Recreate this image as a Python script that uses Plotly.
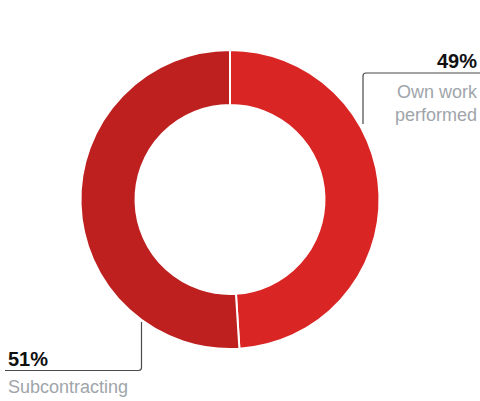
import plotly.graph_objects as go

# Share of revenue by source of work
categories = ["Own work performed", "Subcontracting"]
shares = [49, 51]
pct_labels = ["49%", "51%"]
name_labels = ["Own work<br>performed", "Subcontracting"]
slice_colors = ["#d92624", "#be2020"]

W, H = 480, 401
# pie geometry in pixels
cx, cy, r = 230, 199.5, 149.5


def px(x):
    return x / W


def py(y):
    return 1 - y / H


fig = go.Figure(
    go.Pie(
        labels=categories,
        values=shares,
        sort=False,
        direction="clockwise",
        rotation=0,
        hole=0.632,
        textinfo="none",
        hoverinfo="label+percent",
        marker=dict(colors=slice_colors, line=dict(color="white", width=2)),
        domain=dict(x=[px(cx - r), px(cx + r)], y=[py(cy + r), py(cy - r)]),
        showlegend=False,
    )
)

line_col = "#4a4a4a"
rc = 3  # corner radius of leader lines

# leader for the right label: vertical up from the ring, then right to the edge
rx, ry_top, ry_bot = 363, 73, 124
right_path = (
    f"M {px(rx)} {py(ry_bot)} L {px(rx)} {py(ry_top + rc)} "
    f"Q {px(rx)} {py(ry_top)} {px(rx + rc)} {py(ry_top)} L {px(W)} {py(ry_top)}"
)
# leader for the left label: down from the ring, then left
lx, ly_top, ly_bot, lx_end = 141.5, 322, 370.5, 5
left_path = (
    f"M {px(lx)} {py(ly_top)} L {px(lx)} {py(ly_bot - rc)} "
    f"Q {px(lx)} {py(ly_bot)} {px(lx - rc)} {py(ly_bot)} L {px(lx_end)} {py(ly_bot)}"
)
for p in (right_path, left_path):
    fig.add_shape(type="path", path=p, xref="paper", yref="paper",
                  line=dict(color=line_col, width=1.2))

pct_font = dict(family="Liberation Sans, Arial, sans-serif", size=20, color="#111111", weight="bold")
name_font = dict(family="Liberation Sans, Arial, sans-serif", size=18, color="#a0a5aa")

# right label block
fig.add_annotation(x=px(479), y=py(ry_top + 1), xref="paper", yref="paper",
                   text=pct_labels[0], showarrow=False, xanchor="right", yanchor="bottom",
                   font=pct_font)
fig.add_annotation(x=px(480), y=py(ry_top + 7), xref="paper", yref="paper",
                   text=name_labels[0], showarrow=False, xanchor="right", yanchor="top",
                   align="right", font=name_font)
# left label block
fig.add_annotation(x=px(6), y=py(ly_bot + 1), xref="paper", yref="paper",
                   text=pct_labels[1], showarrow=False, xanchor="left", yanchor="bottom",
                   font=pct_font)
fig.add_annotation(x=px(6), y=py(ly_bot + 4), xref="paper", yref="paper",
                   text=name_labels[1], showarrow=False, xanchor="left", yanchor="top",
                   align="left", font=name_font)

fig.update_layout(
    width=W, height=H,
    margin=dict(l=0, r=0, t=0, b=0),
    paper_bgcolor="white",
    plot_bgcolor="white",
)

fig.write_html("out.html", config={"displayModeBar": False})
